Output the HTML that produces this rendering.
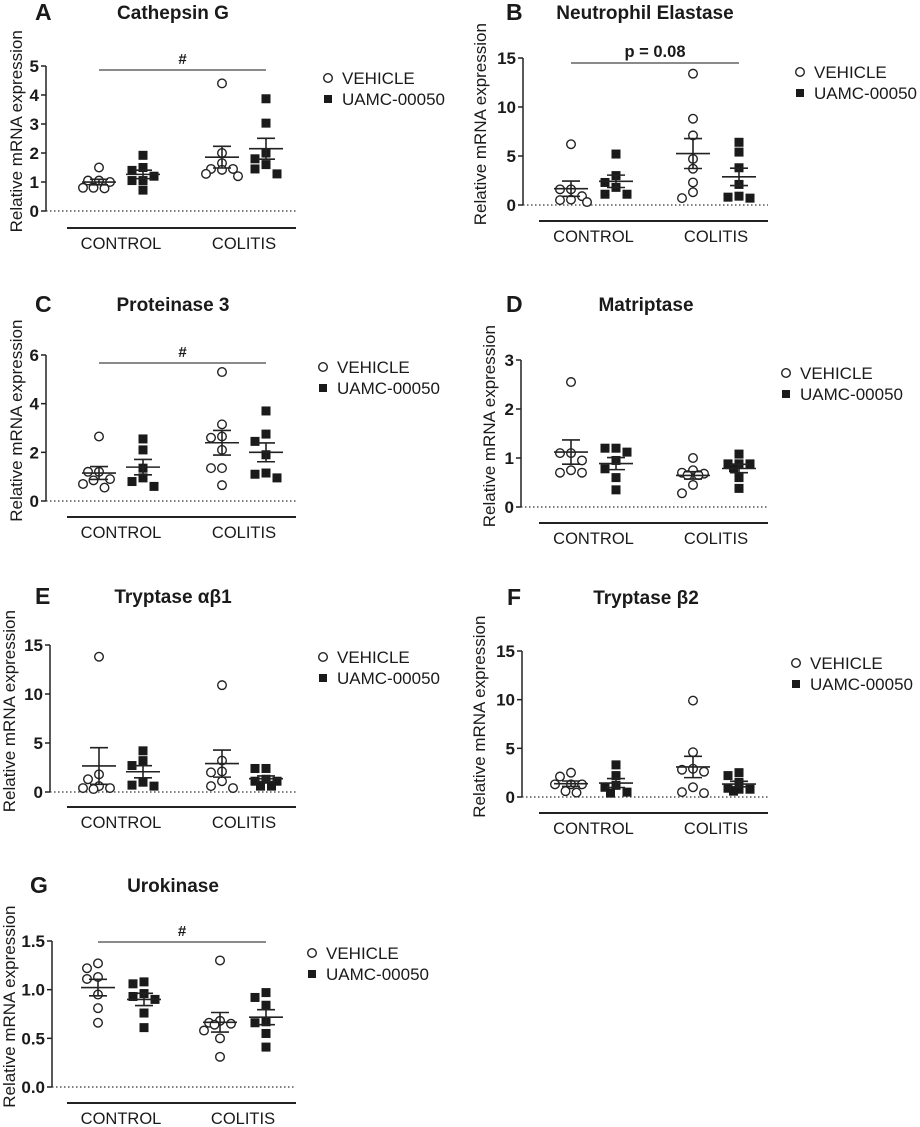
<!DOCTYPE html>
<html><head><meta charset="utf-8"><style>
html,body{margin:0;padding:0;background:#fff}
svg{display:block}
text{font-family:"Liberation Sans",Arial,sans-serif;fill:#1a1a1a}
</style></head><body>
<svg id="fig" width="920" height="1127" viewBox="0 0 920 1127" xmlns="http://www.w3.org/2000/svg"></svg>
<script>
const categories = ["CONTROL","COLITIS"];
const legendLabels = ["VEHICLE","UAMC-00050"];
// Panel A - Cathepsin G
const aCtrlVeh = [1.5,1.05,1.05,1.0,0.8,0.78,0.8];
const aCtrlDrug = [1.92,1.5,1.4,1.2,1.05,1.05,0.72];
const aColVeh = [4.4,2.0,1.65,1.45,1.45,1.42,1.28,1.2];
const aColDrug = [3.87,3.03,2.0,1.8,1.6,1.45,1.28];
const aTicks = [0,1,2,3,4,5];
// Panel B - Neutrophil Elastase
const bCtrlVeh = [6.2,1.6,1.6,0.9,0.5,0.55,0.3];
const bCtrlDrug = [5.2,3.0,2.3,1.8,1.1,1.1];
const bColVeh = [13.4,8.8,7.1,4.7,3.7,2.3,1.3,0.7];
const bColDrug = [6.4,5.4,3.8,2.1,0.7,0.9,0.8];
const bTicks = [0,5,10,15];
// Panel C - Proteinase 3
const cCtrlVeh = [2.65,1.2,1.2,0.9,0.85,0.7,0.55];
const cCtrlDrug = [2.55,2.1,1.35,0.95,0.8,0.6];
const cColVeh = [5.3,3.15,2.6,2.65,2.1,1.35,1.35,0.65];
const cColDrug = [3.7,2.75,2.45,1.9,1.15,1.1,0.95];
const cTicks = [0,2,4,6];
// Panel D - Matriptase
const dCtrlVeh = [2.55,1.1,1.1,0.95,0.7,0.75,0.7];
const dCtrlDrug = [1.2,1.2,1.12,0.95,0.78,0.6,0.35];
const dColVeh = [1.0,0.75,0.7,0.68,0.65,0.65,0.45,0.28];
const dColDrug = [1.08,0.88,0.88,0.88,0.8,0.6,0.38];
const dTicks = [0,1,2,3];
// Panel E - Tryptase ab1
const eCtrlVeh = [13.8,1.8,1.3,0.6,0.4,0.4,0.3];
const eCtrlDrug = [4.2,3.2,2.7,1.0,0.6,0.7];
const eColVeh = [10.9,3.2,2.1,2.0,1.1,0.6,0.4];
const eColDrug = [2.4,2.4,1.3,1.1,1.1,0.6,0.6];
const eTicks = [0,5,10,15];
// Panel F - Tryptase b2
const fCtrlVeh = [2.5,2.1,1.3,1.3,1.3,0.6,0.45];
const fCtrlDrug = [3.3,2.2,1.2,1.0,0.5,0.4];
const fColVeh = [9.9,4.6,2.9,2.8,2.6,1.0,0.5,0.4];
const fColDrug = [2.5,2.2,1.5,0.9,0.8,0.8,0.6];
const fTicks = [0,5,10,15];
// Panel G - Urokinase
const gCtrlVeh = [1.27,1.22,1.13,1.11,0.95,0.81,0.66];
const gCtrlDrug = [1.08,1.06,0.96,0.93,0.9,0.76,0.61];
const gColVeh = [1.3,0.68,0.66,0.65,0.64,0.58,0.5,0.31];
const gColDrug = [0.97,0.92,0.84,0.67,0.66,0.55,0.41];
const gTicks = [0.0,0.5,1.0,1.5];
const gTickLabels = ["0.0","0.5","1.0","1.5"];

const NS="http://www.w3.org/2000/svg";
const svg=document.getElementById('fig');
function mk(tag,attrs,parent,txt){const e=document.createElementNS(NS,tag);for(const k in attrs)e.setAttribute(k,attrs[k]);if(txt!==undefined)e.textContent=txt;(parent||svg).appendChild(e);return e;}

function panel(cfg){
  const g=mk('g',{});
  
  
  const max=cfg.ticks[cfg.ticks.length-1];
  const y=v=>cfg.y0-(v/max)*(cfg.y0-cfg.yTop);
  const L=mk('text',{x:cfg.letterX,y:cfg.titleY+8,'font-size':23,'font-weight':'bold'},g,cfg.letter);
  
  const T=mk('text',{x:cfg.titleX,y:cfg.titleY+7,'font-size':19,'font-weight':'bold','text-anchor':'middle'},g,cfg.title);
  
  const ax=mk('line',{x1:cfg.ax,x2:cfg.ax,y1:cfg.yTop,y2:cfg.y0,stroke:'#222','stroke-width':1.5},g);
  
  cfg.ticks.forEach((t,i)=>{
    mk('line',{x1:cfg.ax-5,x2:cfg.ax,y1:y(t),y2:y(t),stroke:'#222','stroke-width':1.5},g);
    const tl=mk('text',{x:cfg.ax-7,y:y(t)+6,'font-size':17,'font-weight':'bold','text-anchor':'end'},g,cfg.tickLabels?cfg.tickLabels[i]:String(t));
    
  });
  const yt=mk('text',{x:0,y:0,'font-size':17,'text-anchor':'middle',transform:`translate(${cfg.ytX+6},${cfg.yTop+(cfg.y0-cfg.yTop)*0.45}) rotate(-90)`},g,'Relative mRNA expression');
  
  const z=mk('line',{x1:cfg.ax,x2:cfg.lx2,y1:cfg.y0,y2:cfg.y0,stroke:'#333','stroke-width':1.2,'stroke-dasharray':'1.5 2.5'},g);
  
  const bl=mk('line',{x1:cfg.lx1,x2:cfg.lx2,y1:cfg.baseY,y2:cfg.baseY,stroke:'#222','stroke-width':2},g);
  
  categories.forEach((c,i)=>{
    const cx=(cfg.gx[i*2]+cfg.gx[i*2+1])/2;
    const ct=mk('text',{x:cx,y:cfg.baseY+21,'font-size':16.5,'text-anchor':'middle'},g,c);
    
  });
  cfg.series.forEach((vals,si)=>{
    const gx=cfg.gx[si], isVeh=si%2===0;
    const sg=mk('g',{},g);
    
    
    const placed=[];
    const order=vals.map((v,i)=>i).sort((a,b)=>vals[b]-vals[a]);
    const offs=[0,-11,11,-5.5,5.5,-16,16];
    order.forEach(i=>{
      const py=y(vals[i]);let px=gx,best=-1,bestOff=0;
      let found=false;
      for(const o of offs){const cand=gx+o;const d=Math.min(...placed.map(p=>Math.hypot(p[0]-cand,p[1]-py)),99);if(d>=9.5){px=cand;found=true;break;}if(d>best){best=d;bestOff=o;}}
      if(!found)px=gx+bestOff;
      placed.push([px,py]);
      let m;
      if(isVeh) m=mk('circle',{cx:px,cy:py,r:4.3,fill:'#fff',stroke:'#222','stroke-width':1.4},sg);
      else m=mk('rect',{x:px-4.5,y:py-4.5,width:9,height:9,fill:'#1a1a1a'},sg);
      
    });
    const n=vals.length,mean=vals.reduce((a,b)=>a+b,0)/n;
    const sd=Math.sqrt(vals.reduce((a,b)=>a+(b-mean)*(b-mean),0)/(n-1)),sem=sd/Math.sqrt(n);
    const ml=mk('line',{x1:gx-17,x2:gx+17,y1:y(mean),y2:y(mean),stroke:'#222','stroke-width':1.6},sg);
    
    const eb=mk('path',{d:`M${gx},${y(mean+sem)}V${y(mean-sem)}M${gx-9},${y(mean+sem)}H${gx+9}M${gx-9},${y(mean-sem)}H${gx+9}`,stroke:'#222','stroke-width':1.6,fill:'none'},sg);
    
  });
  if(cfg.sig){
    const sl=mk('line',{x1:cfg.gx[0],x2:cfg.gx[3],y1:cfg.sig.y,y2:cfg.sig.y,stroke:'#444','stroke-width':1.2},g);
    
    const st=mk('text',{x:(cfg.gx[0]+cfg.gx[3])/2,y:cfg.sig.y-6,'font-size':cfg.sig.t==='#'?15:16.5,'font-weight':'bold','text-anchor':'middle'},g,cfg.sig.t);
    
  }
  const lg=mk('g',{},g);
  
  const c=mk('circle',{cx:cfg.legX,cy:cfg.legY,r:4.3,fill:'#fff',stroke:'#222','stroke-width':1.4},lg);
  
  const t1=mk('text',{x:cfg.legX+14,y:cfg.legY+6,'font-size':17},lg,legendLabels[0]);
  
  const r=mk('rect',{x:cfg.legX-4,y:cfg.legY+21-4,width:8,height:8,fill:'#1a1a1a'},lg);
  
  const t2=mk('text',{x:cfg.legX+14,y:cfg.legY+27,'font-size':17},lg,legendLabels[1]);
  
}
const Lgx=[99,143,222,266], Rgx=[571,616,693,739];
panel({id:'a',letter:'A',title:'Cathepsin G',letterX:35,titleX:173,titleY:12,ax:46,ytX:16,yTop:66,y0:211,baseY:228,lx1:67,lx2:296,ticks:aTicks,gx:Lgx,series:[aCtrlVeh,aCtrlDrug,aColVeh,aColDrug],sig:{y:70,t:'#'},legX:328,legY:78});
panel({id:'b',letter:'B',title:'Neutrophil Elastase',letterX:506,titleX:645,titleY:12,ax:523,ytX:480,yTop:58,y0:205,baseY:221,lx1:539,lx2:768,ticks:bTicks,gx:Rgx,series:[bCtrlVeh,bCtrlDrug,bColVeh,bColDrug],sig:{y:63,t:'p = 0.08'},legX:800,legY:72});
panel({id:'c',letter:'C',title:'Proteinase 3',letterX:35,titleX:173,titleY:304,ax:46,ytX:16,yTop:355,y0:501,baseY:517,lx1:67,lx2:296,ticks:cTicks,gx:Lgx,series:[cCtrlVeh,cCtrlDrug,cColVeh,cColDrug],sig:{y:363,t:'#'},legX:323,legY:367});
panel({id:'d',letter:'D',title:'Matriptase',letterX:506,titleX:646,titleY:304,ax:521,ytX:489,yTop:360,y0:507,baseY:523,lx1:539,lx2:768,ticks:dTicks,gx:Rgx,series:[dCtrlVeh,dCtrlDrug,dColVeh,dColDrug],legX:786,legY:373});
panel({id:'e',letter:'E',title:'Tryptase \u03b1\u03b21',letterX:35,titleX:173,titleY:596,ax:50,ytX:9,yTop:645,y0:792,baseY:807,lx1:67,lx2:296,ticks:eTicks,gx:Lgx,series:[eCtrlVeh,eCtrlDrug,eColVeh,eColDrug],legX:323,legY:657});
panel({id:'f',letter:'F',title:'Tryptase \u03b22',letterX:507,titleX:646,titleY:597,ax:522,ytX:479,yTop:651,y0:797,baseY:813,lx1:539,lx2:768,ticks:fTicks,gx:Rgx,series:[fCtrlVeh,fCtrlDrug,fColVeh,fColDrug],legX:796,legY:663});
panel({id:'g',letter:'G',title:'Urokinase',letterX:30,titleX:173,titleY:885,ax:52,ytX:9,yTop:941,y0:1087,baseY:1103,lx1:67,lx2:296,ticks:gTicks,tickLabels:gTickLabels,gx:[98,144,220,266],series:[gCtrlVeh,gCtrlDrug,gColVeh,gColDrug],sig:{y:942,t:'#'},legX:312,legY:953});
</script>
</body></html>
